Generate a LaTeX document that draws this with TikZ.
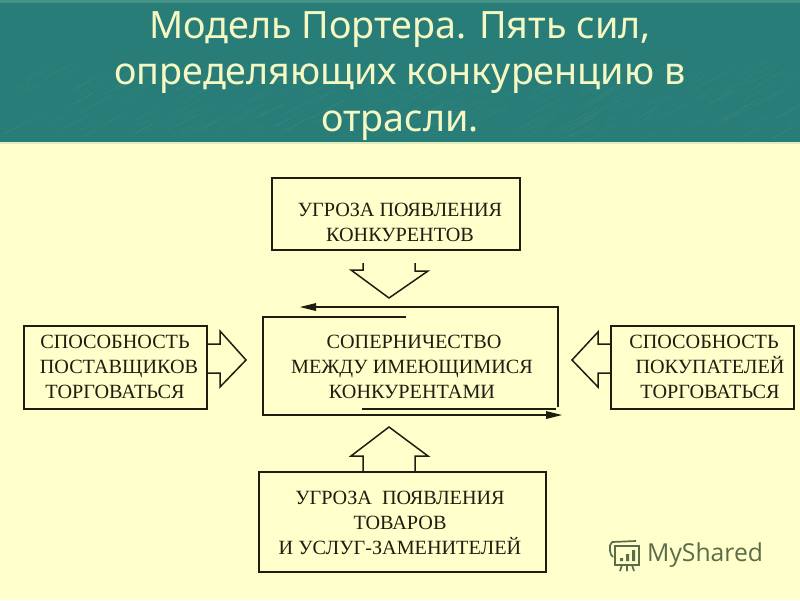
\documentclass[tikz,border=0pt]{standalone}
\usepackage{fontspec}
\setmainfont{Liberation Serif}
\newfontfamily\titlefont{Noto Sans}
\newfontfamily\markfont{Open Sans}
\definecolor{paper}{HTML}{FFFFCC}
\definecolor{band}{HTML}{287D78}
\definecolor{streak}{HTML}{5FA593}
\definecolor{titleink}{HTML}{F6F8C4}
\definecolor{boxink}{HTML}{1E1E10}
\definecolor{markink}{HTML}{5C6B48}
\tikzset{
  x=1pt,y=-1pt,
  boxnode/.style={draw=boxink,line width=1.5pt,inner sep=0pt,outer sep=0pt,anchor=north west},
  bodytext/.style={align=center,text=boxink,inner sep=0pt,font=\fontsize{20.2}{25}\selectfont},
  titletext/.style={align=center,text=titleink,inner sep=0pt,font=\titlefont\fontsize{37.7}{46.5}\selectfont},
  blockarrow/.style={draw=boxink,line width=1.5pt,line join=miter},
  flowline/.style={draw=boxink,line width=1.5pt},
  flowtip/.style={fill=boxink,draw=none},
}
\begin{document}
\begin{tikzpicture}
\useasboundingbox (0,0) rectangle (800,600);
\fill[paper] (0,0) rectangle (800,600);
\fill[band] (0,0) rectangle (800,142);
\fill[streak!55!band] (0,0) rectangle (800,3);
\pgfmathsetseed{4711}
\foreach \i in {1,...,260}{
  \pgfmathsetmacro{\px}{rnd*800}
  \pgfmathsetmacro{\py}{75+rnd*65}
  \pgfmathsetmacro{\pl}{8+rnd*26}
  \draw[streak,opacity=0.13,line width=0.8pt] (\px,\py) -- ++(\pl,-0.55*\pl);
}
\fill[paper!85!band] (0,142) rectangle (800,144);

\node[titletext] (title) at (400,76) {Модель Портера. Пять сил,\\определяющих конкуренцию в\\отрасли.};

% boxes
\node[boxnode,minimum width=248pt,minimum height=72pt] (threat) at (272,178) {};
\node[boxnode,minimum width=183pt,minimum height=83pt] (suppliers) at (24,326) {};
\node[boxnode,minimum width=183pt,minimum height=83pt] (buyers) at (611,326) {};
\node[boxnode,minimum width=287pt,minimum height=100pt] (substitutes) at (259,472) {};

% texts
\node[bodytext] (threattext) at (400,222.5) {УГРОЗА ПОЯВЛЕНИЯ\\КОНКУРЕНТОВ};
\node[bodytext] (suppliertext) at (117,366.5) {\hspace*{-4pt}СПОСОБНОСТЬ\\\hspace*{4pt}ПОСТАВЩИКОВ\\\hspace*{-4pt}ТОРГОВАТЬСЯ};
\node[bodytext] (buyertext) at (710,366.5) {СПОСОБНОСТЬ\hspace*{12pt}\\ПОКУПАТЕЛЕЙ\\ТОРГОВАТЬСЯ};
\node[bodytext] (rivalrytext) at (412,366.5) {\hspace*{4pt}СОПЕРНИЧЕСТВО\\МЕЖДУ ИМЕЮЩИМИСЯ\\КОНКУРЕНТАМИ};
\node[bodytext] (substitutetext) at (400,522.5) {УГРОЗА\ \ ПОЯВЛЕНИЯ\\ТОВАРОВ\\И УСЛУГ-ЗАМЕНИТЕЛЕЙ};

% block arrows
\draw[blockarrow] (363,263) -- (363,270) -- (351,270) -- (389,298) -- (428,271) -- (415,271) -- (415,263);
\draw[blockarrow] (suppliers.east |- 0,344) -- (220,344) -- (220,331) -- (246,360) -- (220,387) -- (220,373) -- (suppliers.east |- 0,373);
\draw[blockarrow] (buyers.west |- 0,344) -- (598,344) -- (598,332) -- (572,360) -- (598,387) -- (598,373) -- (buyers.west |- 0,373);
\draw[blockarrow] (363,472) -- (363,456) -- (351,456) -- (389,427) -- (428,456) -- (415,456) -- (415,472);

% rivalry frame
\coordinate (ta) at (406,317);
\coordinate (tb) at (263,317);
\coordinate (tc) at (263,415);
\coordinate (td) at (546,415);
\coordinate (ua) at (558,407);
\coordinate (ub) at (558,307);
\coordinate (uc) at (316,307);
\coordinate (va) at (362,409);
\coordinate (vb) at (556,409);
\draw[flowline,line join=miter] (ta) -- (tb) -- (tc) -- (td);
\draw[flowline,line join=miter] (ua) -- (ub) -- (uc);
\draw[flowline,line width=2pt] (va) -- (vb);
\fill[flowtip] (300,307) -- (316,303) -- (316,311) -- cycle;
\fill[flowtip] (562,415) -- (546,411) -- (546,419) -- cycle;

% watermark
\begin{scope}[draw=markink,line width=1.7pt]
\draw (612,542) -- (636,541) (612,542) .. controls (608,545) and (610,556) .. (613,557);
\draw (615,546) rectangle (639,565);
\draw (622,565) -- (620,571) (627,565) -- (627,571) (632,565) -- (634,571);
\fill[markink] (620,558) rectangle (623,561) (626,554) rectangle (629,561) (632,550) rectangle (635,561);
\end{scope}
\node[inner sep=0pt,anchor=west,text=markink,font=\markfont\fontsize{24.7}{25}\selectfont] (mark) at (647,555) {MyShared};
\end{tikzpicture}
\end{document}
